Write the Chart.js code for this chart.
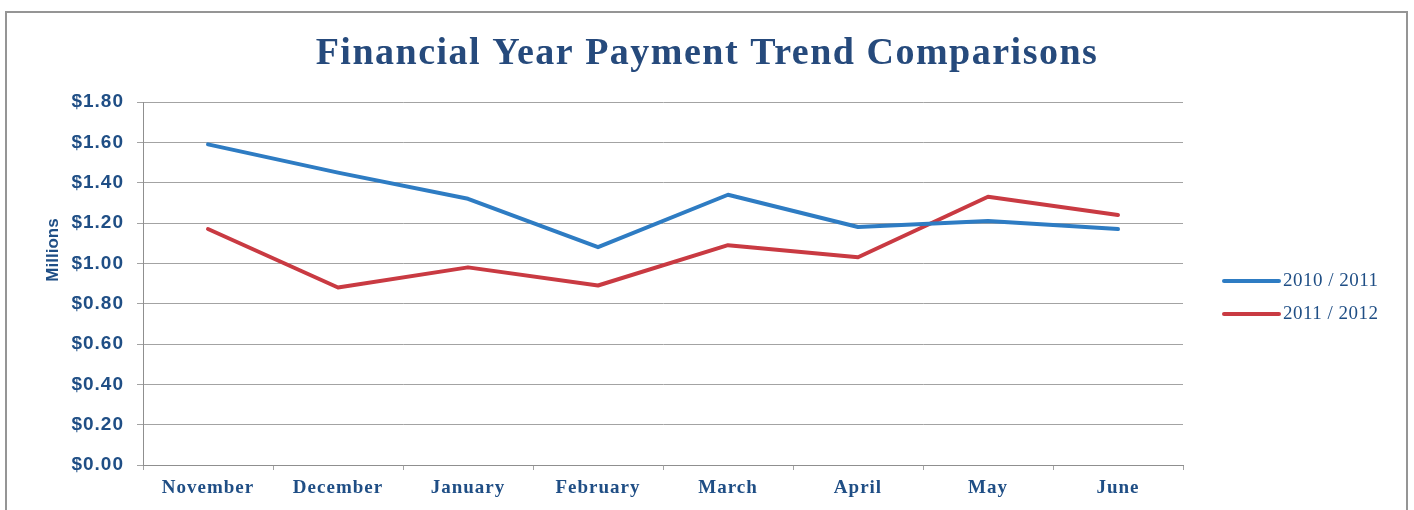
<!DOCTYPE html>
<html>
<head>
<meta charset="utf-8">
<script src="https://cdn.jsdelivr.net/npm/chart.js@4"></script>
<style>
  html, body { margin: 0; padding: 0; background: #ffffff; overflow: hidden; }
  #wrap { position: relative; width: 1414px; height: 510px; }
  #frame { position: absolute; left: 5px; top: 11px; width: 1403px; height: 530px;
           border: 2px solid #959595; box-sizing: border-box; }
  #chart { position: absolute; left: 0; top: 0; }
</style>
</head>
<body>
<div id="wrap">
  <div id="frame"></div>
  <canvas id="chart" width="1414" height="510"></canvas>
</div>
<script>
// Monthly payment totals, in millions of dollars
const categories = ['November', 'December', 'January', 'February', 'March', 'April', 'May', 'June'];
const payments2010_2011 = [1.59, 1.45, 1.32, 1.08, 1.34, 1.18, 1.21, 1.17];
const payments2011_2012 = [1.17, 0.88, 0.98, 0.89, 1.09, 1.03, 1.33, 1.24];
const seriesLabels = ['2010 / 2011', '2011 / 2012'];
const yTickValues = [0, 0.2, 0.4, 0.6, 0.8, 1.0, 1.2, 1.4, 1.6, 1.8];
const chartTitle = 'Financial Year Payment Trend Comparisons';
const yAxisTitle = 'Millions';

const NAVY = '#1f4e85';
const TITLE_NAVY = '#264a7c';
const BLUE = '#2e7cc3';
const RED = '#c93a42';
const GRID = '#a3a3a3';
const SERIF = '"Liberation Serif", "Times New Roman", serif';
const SANS = '"Liberation Sans", Arial, sans-serif';

// Slightly open tracking for the axis tick labels
const tickSpacing = {
  id: 'tickSpacing',
  beforeUpdate(chart) { chart.ctx.letterSpacing = '1px'; },
  beforeDraw(chart) { chart.ctx.letterSpacing = '1px'; }
};

// Title centred on the page, rotated axis title and the line-sample legend
const sideText = {
  id: 'sideText',
  afterDraw(chart) {
    const ctx = chart.ctx;
    const area = chart.chartArea;

    ctx.save();
    ctx.letterSpacing = '1.5px';
    ctx.font = 'bold 38px ' + SERIF;
    ctx.fillStyle = TITLE_NAVY;
    ctx.textAlign = 'center';
    ctx.textBaseline = 'alphabetic';
    ctx.fillText(chartTitle, chart.width / 2, 64);
    ctx.restore();

    ctx.save();
    ctx.letterSpacing = '0px';
    ctx.translate(53, 250);
    ctx.rotate(-Math.PI / 2);
    ctx.font = 'bold 17px ' + SANS;
    ctx.fillStyle = NAVY;
    ctx.textAlign = 'center';
    ctx.textBaseline = 'middle';
    ctx.fillText(yAxisTitle, 0, 0);
    ctx.restore();

    ctx.save();
    ctx.letterSpacing = '0.5px';
    chart.data.datasets.forEach((ds, i) => {
      const y = 281 + i * 33;
      const x0 = area.right + 41;
      ctx.strokeStyle = ds.borderColor;
      ctx.lineWidth = 4;
      ctx.lineCap = 'round';
      ctx.beginPath();
      ctx.moveTo(x0, y);
      ctx.lineTo(x0 + 55, y);
      ctx.stroke();
      ctx.font = '19px ' + SERIF;
      ctx.fillStyle = NAVY;
      ctx.textAlign = 'left';
      ctx.textBaseline = 'middle';
      ctx.fillText(ds.label, x0 + 59, y);
    });
    ctx.restore();
  }
};

new Chart(document.getElementById('chart'), {
  type: 'line',
  data: {
    labels: categories,
    datasets: [
      { label: seriesLabels[0], data: payments2010_2011, borderColor: BLUE, backgroundColor: BLUE },
      { label: seriesLabels[1], data: payments2011_2012, borderColor: RED, backgroundColor: RED }
    ]
  },
  options: {
    responsive: false,
    animation: false,
    devicePixelRatio: 1,
    layout: { padding: { top: 102, right: 231, bottom: 0, left: 0 } },
    elements: {
      line: { borderWidth: 4, tension: 0, fill: false, borderCapStyle: 'round', borderJoinStyle: 'round' },
      point: { radius: 0, hoverRadius: 0 }
    },
    plugins: {
      legend: { display: false },
      tooltip: { enabled: false },
      title: { display: false }
    },
    scales: {
      x: {
        type: 'category',
        offset: true,
        grid: { offset: true, drawOnChartArea: false, drawTicks: true, tickLength: 5, color: GRID },
        border: { color: '#8f8f8f', width: 1 },
        ticks: { color: NAVY, font: { family: SERIF, size: 19, weight: 'bold' }, padding: 7, maxRotation: 0 },
        afterFit(scale) { scale.height = 45; }
      },
      y: {
        min: 0,
        max: 1.8,
        afterBuildTicks(scale) { scale.ticks = yTickValues.map(v => ({ value: v })); },
        grid: { color: GRID, tickLength: 6, lineWidth: 1 },
        border: { color: '#8f8f8f', width: 1 },
        ticks: {
          color: NAVY,
          font: { family: SANS, size: 19, weight: 'bold' },
          padding: 13,
          callback: v => '$' + Number(v).toFixed(2)
        },
        afterFit(scale) { scale.width = 143; }
      }
    }
  },
  plugins: [tickSpacing, sideText]
});
</script>
</body>
</html>
